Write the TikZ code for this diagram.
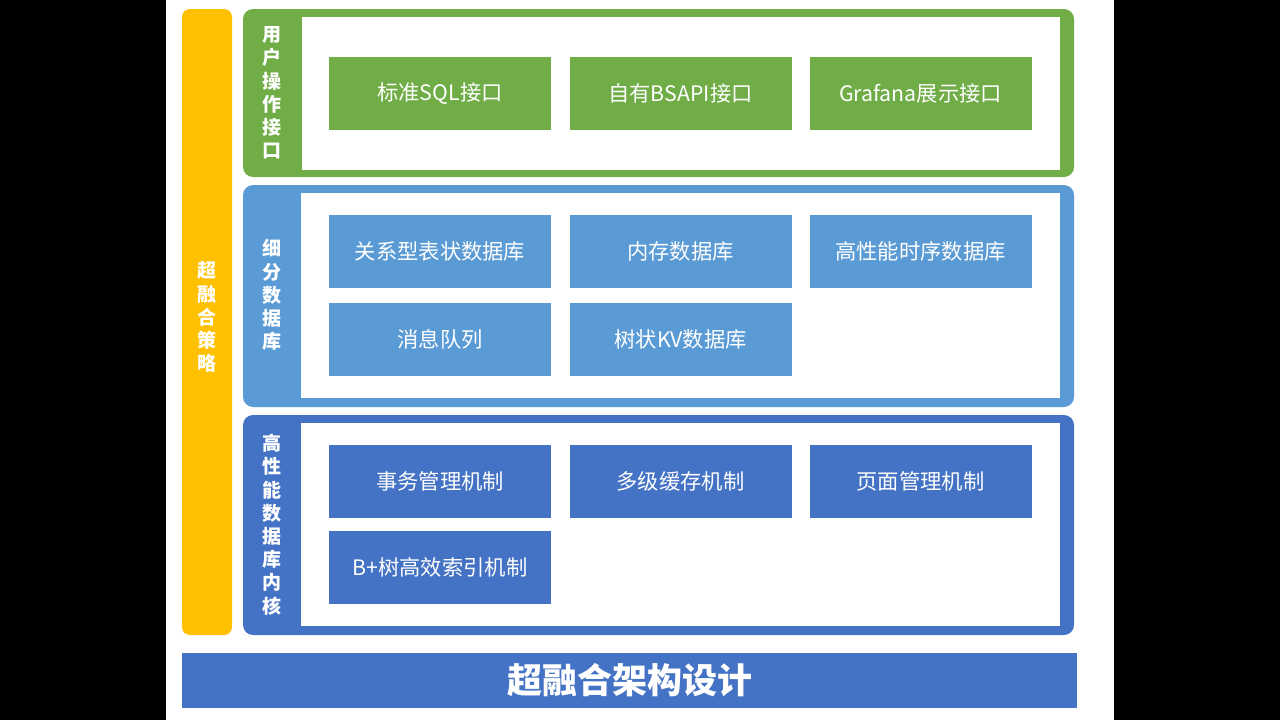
\documentclass[tikz,border=0pt]{standalone}
\usepackage{fontspec}
\setmainfont{Noto Sans CJK SC}
\definecolor{cgreen}{RGB}{112,173,71}
\definecolor{clblue}{RGB}{91,155,213}
\definecolor{cdblue}{RGB}{68,114,196}
\definecolor{cyellow}{RGB}{255,192,0}
\tikzset{
  cell/.style={minimum width=222pt, minimum height=73pt, inner sep=0pt, text=white, font=\fontsize{21.3}{24}\selectfont},
  side/.style={text=white, align=center, inner sep=0pt, font=\bfseries\fontsize{19}{23.2}\selectfont},
  panel/.style={rounded corners=10pt},
}
\begin{document}
\begin{tikzpicture}[x=1pt,y=-1pt]
\useasboundingbox (0,0) rectangle (1280,720);
\fill[black] (0,0) rectangle (1280,720);
\fill[white] (166,0) rectangle (1114,720);
% yellow strategy bar
\fill[cyellow, rounded corners=8pt] (182,9) rectangle (232,635);
\node[side] (strategy) at (207,317) {超\\融\\合\\策\\略};
% green panel
\fill[cgreen, panel] (243,9) rectangle (1074,177);
\fill[white] (302,17) rectangle (1060,170);
\node[side] (uilabel) at (272,93) {用\\户\\操\\作\\接\\口};
\node[cell, fill=cgreen] (sql) at (440,93.5) {标准SQL接口};
\node[cell, fill=cgreen] (bsapi) at (680.5,93.5) {自有BSAPI接口};
\node[cell, fill=cgreen] (grafana) at (920.5,93.5) {Grafana展示接口};
% light blue panel
\fill[clblue, panel] (243,185) rectangle (1074,407);
\fill[white] (301,193) rectangle (1060,398);
\node[side] (dblabel) at (272,295) {细\\分\\数\\据\\库};
\node[cell, fill=clblue] (rel) at (440,251.5) {关系型表状数据库};
\node[cell, fill=clblue] (mem) at (680.5,251.5) {内存数据库};
\node[cell, fill=clblue] (ts) at (920.5,251.5) {高性能时序数据库};
\node[cell, fill=clblue] (mq) at (440,339.5) {消息队列};
\node[cell, fill=clblue] (kv) at (680.5,339.5) {树状KV数据库};
% dark blue panel
\fill[cdblue, panel] (243,415) rectangle (1074,635);
\fill[white] (301,423) rectangle (1060,626);
\node[side] (kernellabel) at (272,524.5) {高\\性\\能\\数\\据\\库\\内\\核};
\node[cell, fill=cdblue] (tx) at (440,481.5) {事务管理机制};
\node[cell, fill=cdblue] (cache) at (680.5,481.5) {多级缓存机制};
\node[cell, fill=cdblue] (page) at (920.5,481.5) {页面管理机制};
\node[cell, fill=cdblue] (btree) at (440,567.5) {B+树高效索引机制};
% bottom title bar
\node[fill=cdblue, minimum width=895pt, minimum height=55pt, inner sep=0pt, text=white, font=\bfseries\fontsize{35}{40}\selectfont] (title) at (629.5,680.5) {超融合架构设计};
\end{tikzpicture}
\end{document}
